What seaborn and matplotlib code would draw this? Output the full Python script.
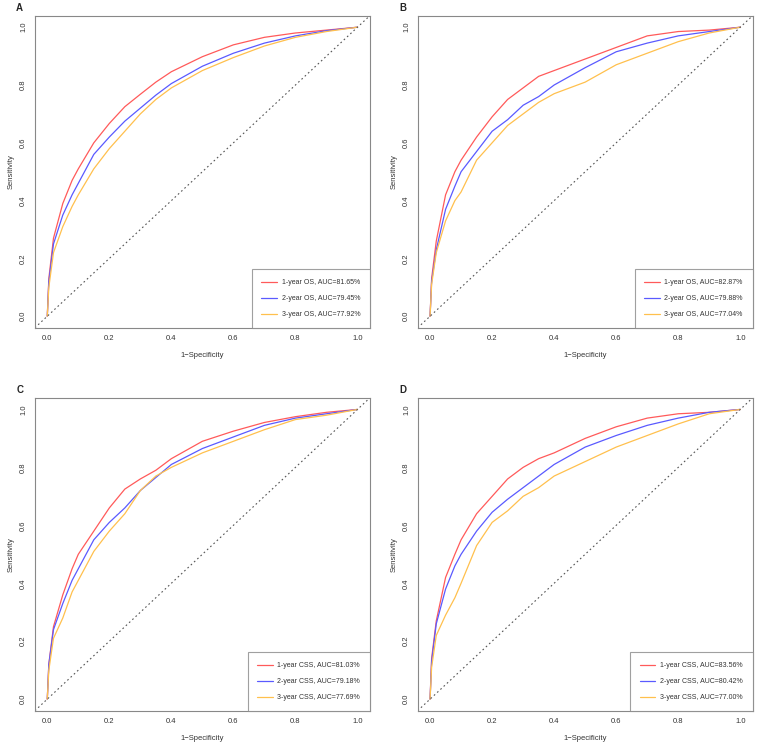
import numpy as np
import pandas as pd
import seaborn as sns
import matplotlib.pyplot as plt

# false positive rate grid shared by all read-off curves
fpr = [0.0, 0.005, 0.02, 0.05, 0.08, 0.1, 0.15, 0.2, 0.25, 0.3, 0.35, 0.4,
       0.5, 0.6, 0.7, 0.8, 0.9, 1.0]

# Panel A - OS
a_1yr = [0.0, 0.13, 0.27, 0.39, 0.47, 0.51, 0.60, 0.667, 0.725, 0.768, 0.81, 0.846,
         0.898, 0.939, 0.965, 0.98, 0.99, 1.0]
a_2yr = [0.0, 0.12, 0.25, 0.35, 0.42, 0.46, 0.56, 0.62, 0.675, 0.72, 0.765, 0.805,
         0.865, 0.91, 0.945, 0.97, 0.988, 1.0]
a_3yr = [0.0, 0.10, 0.22, 0.31, 0.38, 0.42, 0.51, 0.58, 0.64, 0.70, 0.75, 0.79,
         0.85, 0.895, 0.935, 0.965, 0.985, 1.0]

# Panel B - OS
b_1yr = [0.0, 0.13, 0.26, 0.42, 0.50, 0.54, 0.62, 0.69, 0.75, 0.79, 0.83, 0.85,
         0.89, 0.93, 0.97, 0.985, 0.99, 1.0]
b_2yr = [0.0, 0.12, 0.23, 0.37, 0.45, 0.50, 0.57, 0.64, 0.68, 0.73, 0.76, 0.80,
         0.86, 0.915, 0.945, 0.97, 0.985, 1.0]
b_3yr = [0.0, 0.11, 0.22, 0.33, 0.40, 0.43, 0.54, 0.60, 0.66, 0.70, 0.74, 0.77,
         0.81, 0.87, 0.91, 0.95, 0.98, 1.0]

# Panel C - CSS
c_1yr = [0.0, 0.12, 0.25, 0.36, 0.45, 0.50, 0.58, 0.66, 0.725, 0.76, 0.79, 0.83,
         0.89, 0.925, 0.955, 0.975, 0.99, 1.0]
c_2yr = [0.0, 0.12, 0.24, 0.33, 0.41, 0.45, 0.55, 0.61, 0.66, 0.72, 0.765, 0.81,
         0.865, 0.905, 0.945, 0.97, 0.985, 1.0]
c_3yr = [0.0, 0.10, 0.21, 0.28, 0.37, 0.41, 0.51, 0.58, 0.64, 0.72, 0.77, 0.80,
         0.85, 0.89, 0.93, 0.965, 0.98, 1.0]

# Panel D - CSS
d_1yr = [0.0, 0.14, 0.27, 0.42, 0.50, 0.55, 0.64, 0.70, 0.76, 0.80, 0.83, 0.85,
         0.90, 0.94, 0.97, 0.985, 0.99, 1.0]
d_2yr = [0.0, 0.13, 0.26, 0.38, 0.46, 0.50, 0.58, 0.645, 0.69, 0.73, 0.77, 0.81,
         0.87, 0.91, 0.945, 0.97, 0.99, 1.0]
d_3yr = [0.0, 0.11, 0.22, 0.29, 0.35, 0.40, 0.53, 0.61, 0.65, 0.70, 0.73, 0.77,
         0.82, 0.87, 0.91, 0.95, 0.985, 1.0]

panel_names = ['A', 'B', 'C', 'D']
endpoints = ['OS', 'OS', 'CSS', 'CSS']
auc_values = [[81.65, 79.45, 77.92],
              [82.87, 79.88, 77.04],
              [81.03, 79.18, 77.69],
              [83.56, 80.42, 77.00]]
panel_curves = [[a_1yr, a_2yr, a_3yr],
                [b_1yr, b_2yr, b_3yr],
                [c_1yr, c_2yr, c_3yr],
                [d_1yr, d_2yr, d_3yr]]
line_colors = ['#ff5a5a', '#5a5aff', '#ffc04d']

sns.set_style('white')
plt.rcParams['font.family'] = ['Liberation Sans', 'DejaVu Sans']

fig = plt.figure(figsize=(7.58, 7.45), dpi=100)
positions = [[0.046, 0.560, 0.442, 0.419],
             [0.551, 0.560, 0.442, 0.419],
             [0.046, 0.046, 0.442, 0.420],
             [0.551, 0.046, 0.442, 0.420]]

for i in range(4):
    ax = fig.add_axes(positions[i])
    rows = []
    for k in range(3):
        label = '%d-year %s, AUC=%.2f%%' % (k + 1, endpoints[i], auc_values[i][k])
        for x, y in zip(fpr, panel_curves[i][k]):
            rows.append([x, y, label])
    df = pd.DataFrame(rows, columns=['fpr', 'tpr', 'curve'])
    labels = list(dict.fromkeys(df['curve']))

    sns.lineplot(data=df, x='fpr', y='tpr', hue='curve', hue_order=labels,
                 palette=line_colors, estimator=None, sort=False,
                 linewidth=0.9, ax=ax)
    ax.plot([-0.04, 1.04], [-0.04, 1.04], ls=(0, (1.5, 2.5)), color='#555555', lw=0.8)

    ax.set_xlim(-0.04, 1.04)
    ax.set_ylim(-0.04, 1.04)
    ticks = [0.0, 0.2, 0.4, 0.6, 0.8, 1.0]
    ax.set_xticks(ticks)
    ax.set_yticks(ticks)
    ax.set_xticklabels(['%.1f' % t for t in ticks], fontsize=5.5, color='#333333')
    ax.set_yticklabels(['%.1f' % t for t in ticks], fontsize=5.5, color='#333333',
                       rotation=90, va='center')
    ax.tick_params(direction='out', length=3, width=0.6, color='#888888', pad=2.5)
    ax.set_xlabel('1\u2212Specificity', fontsize=5.5, color='#333333', labelpad=7)
    ax.set_ylabel('Sensitivity', fontsize=5.5, color='#333333', labelpad=4)
    for sp in ax.spines.values():
        sp.set_color('#888888')
        sp.set_linewidth(0.8)

    leg = ax.legend(loc='lower right', fontsize=5, frameon=True, fancybox=False,
                    borderaxespad=0, borderpad=1.4, labelspacing=1.3,
                    handlelength=2.2, handletextpad=0.7, title=None)
    leg.get_frame().set_edgecolor('#888888')
    leg.get_frame().set_linewidth(0.8)
    for t in leg.get_texts():
        t.set_color('#333333')

    ax.text(-0.035, 1.01, panel_names[i], transform=ax.transAxes, fontsize=7,
            fontweight='bold', ha='right', va='bottom')

fig.savefig('out.png', dpi=100)
